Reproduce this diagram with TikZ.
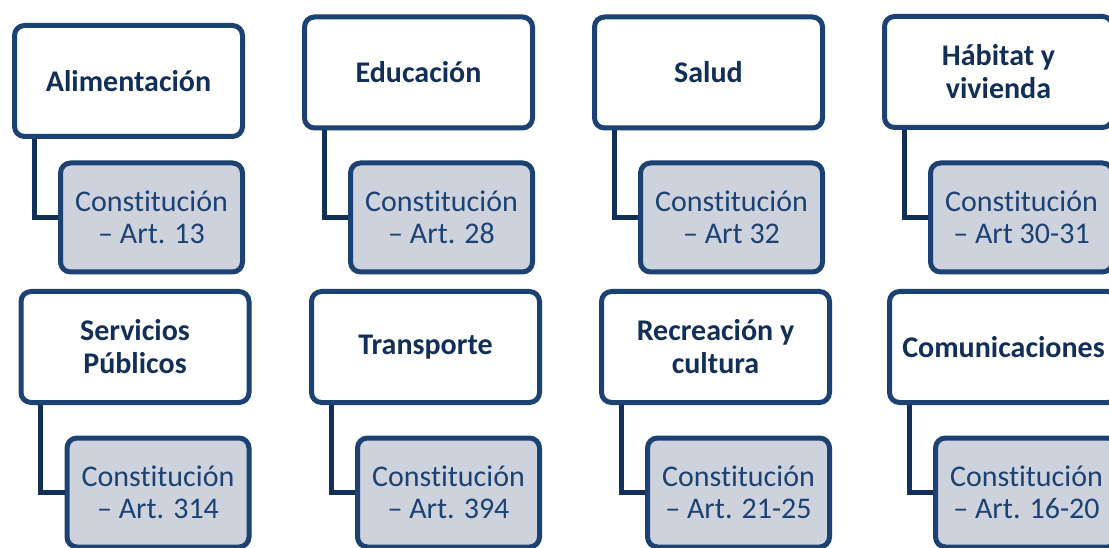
\documentclass[tikz,border=0pt]{standalone}
\usepackage{fontspec}
\setmainfont{Carlito}[Ligatures=NoCommon]
\definecolor{azul}{HTML}{1B4273}
\definecolor{marino}{HTML}{122F57}
\definecolor{gris}{HTML}{CED2DC}
\newcommand\rama[5]{\node(#1)[tema] at (#2) {#4}; \node(#1c)[norma,anchor=north east] at (#1.east |- #3) {#5}; \draw[enlace] ([xshift=22pt]#1.south west) |- (#1c.west);}

\begin{document}
\begin{tikzpicture}[x=1pt,y=-1pt,
    tema/.style={draw=azul,fill=white,line width=5pt,rounded corners=10pt,minimum width=228pt,minimum height=111pt,
        align=center,text=marino,font=\fontsize{30}{33}\selectfont\bfseries},
    norma/.style={tema,fill=gris,minimum width=182pt,minimum height=109pt,text=azul,font=\fontsize{30}{32.5}\selectfont},
    enlace/.style={draw=marino,line width=5pt}]
    \useasboundingbox (0,0) rectangle (1109,548);
    \clip (0,0) rectangle (1109,548);
    \coordinate (f1) at (0,160.5);
    \coordinate (f2) at (0,435.5);
    % fila de arriba
    \rama{ali}{128.5,81}{f1}{Alimentación}{Constitución\\– Art. 13}
    \rama{edu}{418.5,72.5}{f1}{Educación}{Constitución\\– Art. 28}
    \rama{sal}{708.5,72.5}{f1}{Salud}{Constitución\\– Art 32}
    \rama{hab}{998.5,72}{f1}{Hábitat y\\vivienda}{Constitución\\– Art 30-31}
    % fila de abajo
    \rama{ser}{135,347}{f2}{Servicios\\Públicos}{Constitución\\– Art. 314}
    \rama{tra}{425.5,347}{f2}{Transporte}{Constitución\\– Art. 394}
    \rama{rec}{715.5,347}{f2}{Recreación y\\cultura}{Constitución\\– Art. 21-25}
    \rama{com}{1003.5,347}{f2}{Comunicaciones}{Constitución\\– Art. 16-20}
\end{tikzpicture}
\end{document}
